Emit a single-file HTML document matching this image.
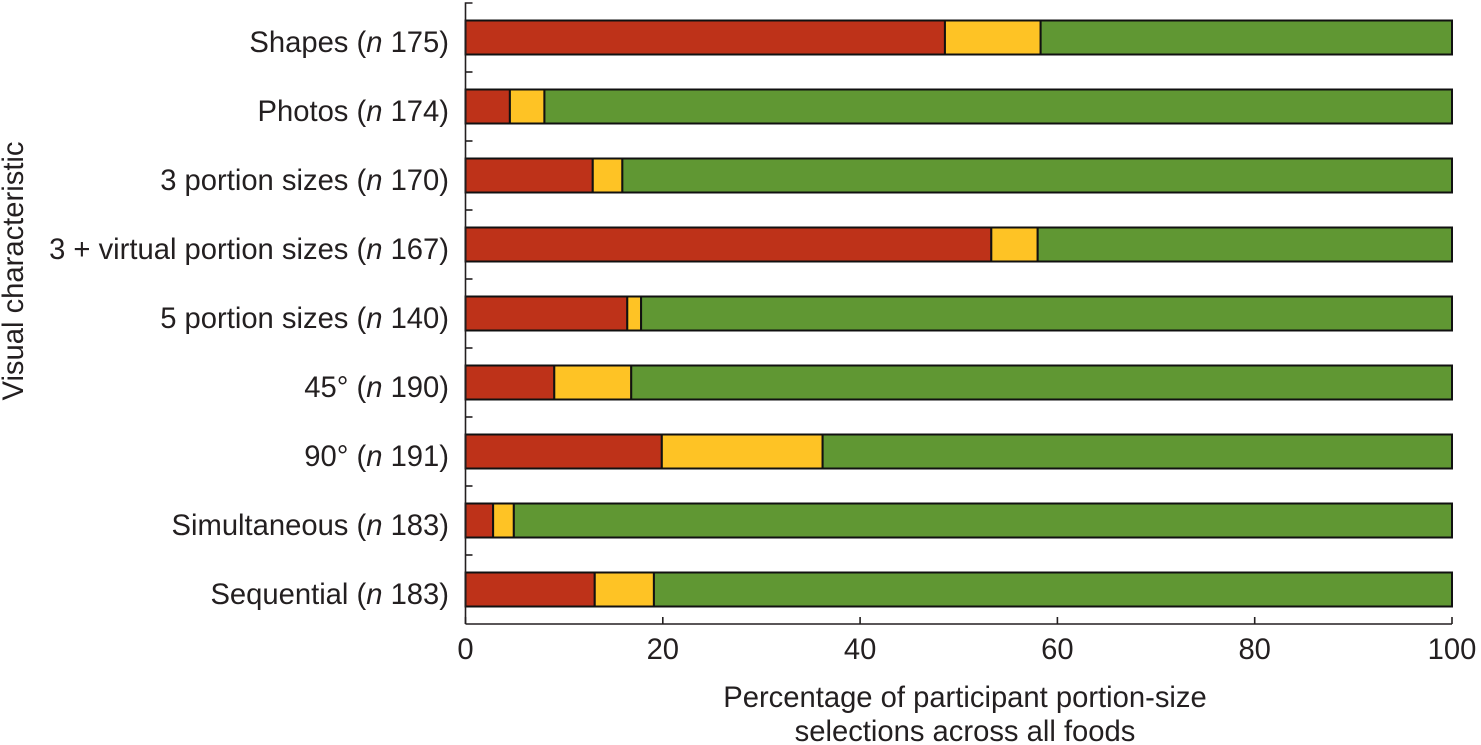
<!DOCTYPE html>
<html><head><meta charset="utf-8"><style>
html,body{margin:0;padding:0;background:#fff}
svg{display:block}
text{font-family:"Liberation Sans",Arial,sans-serif;font-size:29.2px;fill:#231f20}
</style></head><body>
<svg id="chart" width="1481" height="745" viewBox="0 0 1481 745" xmlns="http://www.w3.org/2000/svg"></svg>
<script>
const categories=["Shapes","Photos","3 portion sizes","3 + virtual portion sizes","5 portion sizes","45°","90°","Simultaneous","Sequential"];
const sampleSizes=[175,174,170,167,140,190,191,183,183];
const redValues=[48.6,4.5,12.9,53.3,16.4,9,19.9,2.8,13.1];
const yellowValues=[9.7,3.5,3,4.7,1.4,7.8,16.3,2.1,6];
const greenValues=[41.7,92,84.1,42,82.2,83.2,63.8,95.1,80.9];
const xTicks=[0,20,40,60,80,100];
const xTitleLines=["Percentage of participant portion-size","selections across all foods"];
const yTitle="Visual characteristic";

const svg=document.getElementById('chart');
const NS='http://www.w3.org/2000/svg';
const X0=465.5,X1=1452,Y0=3,BAND=69;
const xScale=v=>X0+(X1-X0)*v/100;
const bandTop=i=>Y0+BAND*i;
function mk(tag,attrs,parent){const e=document.createElementNS(NS,tag);for(const k in attrs)e.setAttribute(k,attrs[k]);(parent||svg).appendChild(e);return e;}
const seriesColors=["#be3219","#fec325","#609733"];
const seriesNames=["red","yellow","green"];
const seriesValues=[redValues,yellowValues,greenValues];
const barsG=mk('g',{});


categories.forEach((c,i)=>{
  let acc=0;
  const top=bandTop(i)+17.5;
  seriesValues.forEach((vals,s)=>{
    const r=mk('rect',{x:xScale(acc),y:top,width:xScale(acc+vals[i])-xScale(acc),height:34,fill:seriesColors[s],stroke:'#111',"stroke-width":2},barsG);
    
    
    acc+=vals[i];
  });
  const t=mk('text',{x:449,y:bandTop(i)+49,"text-anchor":"end"});
  
  
  t.appendChild(document.createTextNode(c+' ('));
  const n=mk('tspan',{"font-style":"italic"},t);n.textContent='n';
  t.appendChild(document.createTextNode(' '+sampleSizes[i]+')'));
});
const bottom=bandTop(categories.length);
const axisY=mk('path',{d:`M${X0+7} ${Y0}H${X0}V${bottom}`,fill:'none',stroke:'#231f20',"stroke-width":1.6});


for(let i=1;i<categories.length;i++){
  const tk=mk('line',{x1:X0,x2:X0+7,y1:bandTop(i),y2:bandTop(i),stroke:'#231f20',"stroke-width":1.6});
  
  
}
const axisX=mk('line',{x1:X0,x2:X1,y1:bottom,y2:bottom,stroke:'#231f20',"stroke-width":1.6});


xTicks.forEach(v=>{
  const tk=mk('line',{x1:xScale(v),x2:xScale(v),y1:bottom-7,y2:bottom,stroke:'#231f20',"stroke-width":1.6});
  
  
  const t=mk('text',{x:xScale(v),y:659,"text-anchor":"middle"});
  t.textContent=v;
  
  
});
xTitleLines.forEach((l,i)=>{
  const t=mk('text',{x:965,y:707+34*i,"text-anchor":"middle"});
  t.textContent=l;
  
  
});
const yt=mk('text',{transform:'translate(23,271) rotate(-90)',"text-anchor":"middle"});
yt.textContent=yTitle;


</script>
</body></html>
